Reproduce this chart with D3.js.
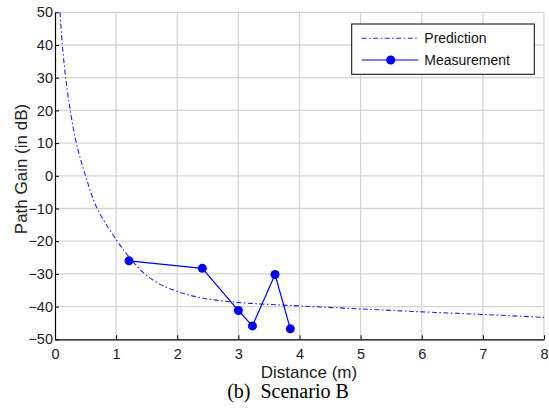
<!DOCTYPE html>
<html>
<head>
<meta charset="utf-8">
<script src="https://cdn.jsdelivr.net/npm/d3@7"></script>
<style>
html,body{margin:0;padding:0;background:#fff;}
svg{display:block;}
</style>
</head>
<body>
<svg id="chart" width="549" height="412"></svg>
<script>
// ---- data ----
const xTicks = [0,1,2,3,4,5,6,7,8];
const yTicks = [-50,-40,-30,-20,-10,0,10,20,30,40,50];
const predX = [0.082,0.12,0.175,0.25,0.349,0.50,0.69,1.02,1.22,1.445,1.72,1.99,2.26,2.54,2.86,3.19,4,5,6,7,8];
const predY = [50,40,30,20,10,0,-10,-20,-25,-29.6,-33.2,-35.3,-36.8,-37.8,-38.5,-39,-39.8,-40.7,-41.6,-42.4,-43.3];
const measX = [1.21,2.41,3.0,3.23,3.6,3.85];
const measY = [-26,-28.3,-41.2,-45.9,-30.2,-46.8];
const seriesNames = ["Prediction","Measurement"];
const xLabel = "Distance (m)";
const yLabel = "Path Gain (in dB)";
const caption = "(b)  Scenario B";

// ---- layout ----
const svg = d3.select("#chart");
const L = 55, R = 544, T = 12.3, B = 339.3;
const x = d3.scaleLinear().domain([0,8]).range([L,R]);
const y = d3.scaleLinear().domain([-50,50]).range([B,T]);
const font = "Arial, 'Liberation Sans', Helvetica, sans-serif";

// grid
const g = svg.append("g");
g.selectAll(".gx").data(xTicks.slice(1)).enter().append("line")
  .attr("x1",d=>x(d)).attr("x2",d=>x(d)).attr("y1",T).attr("y2",B)
  .attr("stroke","#d4d4d4").attr("stroke-width",1.3);
g.selectAll(".gy").data(yTicks.slice(1)).enter().append("line")
  .attr("x1",L).attr("x2",R).attr("y1",d=>y(d)).attr("y2",d=>y(d))
  .attr("stroke","#d4d4d4").attr("stroke-width",1.3);

// axes
const xAxis = svg.append("g").attr("transform",`translate(0,${B})`)
  .call(d3.axisBottom(x).tickValues(xTicks).tickFormat(d3.format("d")).tickSizeInner(-4).tickSizeOuter(0).tickPadding(9));
const yAxis = svg.append("g").attr("transform",`translate(${L},0)`)
  .call(d3.axisLeft(y).tickValues(yTicks).tickFormat(d3.format("d")).tickSizeInner(-4).tickSizeOuter(0).tickPadding(2));
[xAxis,yAxis].forEach(a=>{
  a.select(".domain").attr("stroke","#000").attr("stroke-width",1.2);
  a.selectAll(".tick line").attr("stroke","#000");
  a.selectAll("text").attr("font-family",font).attr("font-size",14.5).attr("fill","#222");
});

// prediction curve
const predPts = predX.map((d,i)=>[d,predY[i]]);
svg.append("path").datum(predPts)
  .attr("d", d3.line().x(d=>x(d[0])).y(d=>y(d[1])).curve(d3.curveCatmullRom.alpha(0.5)))
  .attr("fill","none").attr("stroke","#2020ff").attr("stroke-width",1.1)
  .attr("stroke-dasharray","5,2.5,1.5,2.5");

// measurement
const measPts = measX.map((d,i)=>[d,measY[i]]);
svg.append("path").datum(measPts)
  .attr("d", d3.line().x(d=>x(d[0])).y(d=>y(d[1])))
  .attr("fill","none").attr("stroke","#0000ff").attr("stroke-width",1.2);
svg.selectAll(".m").data(measPts).enter().append("circle")
  .attr("cx",d=>x(d[0])).attr("cy",d=>y(d[1])).attr("r",4.5).attr("fill","#0000ff");

// legend
const lg = svg.append("g");
lg.append("rect").attr("x",351.7).attr("y",24).attr("width",182.6).attr("height",50.3)
  .attr("fill","#fff").attr("stroke","#000").attr("stroke-width",1);
lg.append("line").attr("x1",361.7).attr("x2",418.3).attr("y1",38.3).attr("y2",38.3)
  .attr("stroke","#2020ff").attr("stroke-width",1.1).attr("stroke-dasharray","5,2.5,1.5,2.5");
lg.append("line").attr("x1",361.7).attr("x2",418.3).attr("y1",60).attr("y2",60)
  .attr("stroke","#0000ff").attr("stroke-width",1.2);
lg.append("circle").attr("cx",390.7).attr("cy",60).attr("r",4.5).attr("fill","#0000ff");
lg.selectAll(".lt").data(seriesNames).enter().append("text")
  .attr("x",424.3).attr("y",(d,i)=>i===0?43.3:65)
  .attr("font-family",font).attr("font-size",14).attr("fill","#111").text(d=>d);

// labels
svg.append("text").attr("x",309).attr("y",378).attr("text-anchor","middle")
  .attr("font-family",font).attr("font-size",17).attr("fill","#222").text(xLabel);
svg.append("text").attr("transform",`translate(27,169) rotate(-90)`).attr("text-anchor","middle")
  .attr("font-family",font).attr("font-size",17).attr("fill","#222").text(yLabel);
svg.append("text").attr("x",288).attr("y",398).attr("text-anchor","middle")
  .attr("font-family","'Times New Roman', 'Liberation Serif', serif").attr("font-size",20).attr("fill","#000")
  .attr("xml:space","preserve").style("white-space","pre").text(caption);
</script>
</body>
</html>
